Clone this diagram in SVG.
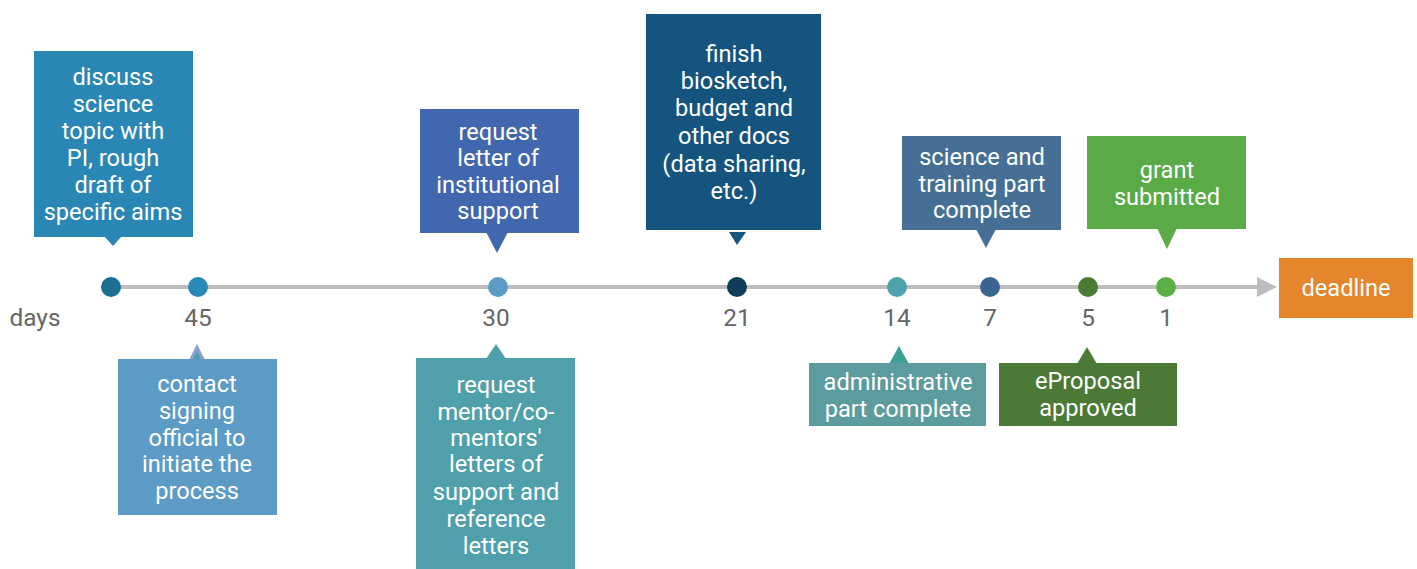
<svg xmlns="http://www.w3.org/2000/svg" width="1417" height="569" viewBox="0 0 1417 569">
<style>
.t{font-family:Roboto,"Liberation Sans",sans-serif;font-size:23.6px;fill:#ffffff;text-anchor:middle}
.n{font-family:Roboto,"Liberation Sans",sans-serif;font-size:24.4px;fill:#666666;text-anchor:middle}
</style>
<rect width="1417" height="569" fill="#ffffff"/>
<g id="connectors">
<line x1="111" y1="287" x2="1260" y2="287" stroke="#bdbdbd" stroke-width="4"/>
<polygon points="1257,277 1277,287 1257,297" fill="#bdbdbd"/>
</g>
<g id="dots">
<circle cx="111" cy="287" r="10" fill="#1d6f96"/>
<circle cx="198" cy="287" r="10" fill="#2989b7"/>
<circle cx="498" cy="287" r="10" fill="#5b9bc6"/>
<circle cx="737" cy="287" r="10" fill="#0e3d57"/>
<circle cx="897" cy="287" r="10" fill="#4ea2ae"/>
<circle cx="990" cy="287" r="10" fill="#3a6491"/>
<circle cx="1088" cy="287" r="10" fill="#4b7a33"/>
<circle cx="1166" cy="287" r="10" fill="#5aaf47"/>
</g>
<g id="labels">
<text x="35" y="326" class="n">days</text>
<text x="198" y="326" class="n">45</text>
<text x="496" y="326" class="n">30</text>
<text x="737" y="326" class="n">21</text>
<text x="897" y="326" class="n">14</text>
<text x="990" y="326" class="n">7</text>
<text x="1088" y="326" class="n">5</text>
<text x="1166" y="326" class="n">1</text>
</g>
<g id="n1">
<rect x="34" y="51" width="159" height="186" fill="#2a87b5"/>
<polygon points="104,236 122,236 113,246" fill="#2a87b5"/>
<text class="t"><tspan x="113" y="85">discuss</tspan><tspan x="113" y="112">science</tspan><tspan x="113" y="139">topic with</tspan><tspan x="113" y="166">PI, rough</tspan><tspan x="113" y="193">draft of</tspan><tspan x="113" y="220">specific aims</tspan></text>
</g>
<g id="n2">
<polygon points="189,360 205,360 197,344" fill="#8c9fcf"/>
<polygon points="193,359 201,359 197,351" fill="#4fa0ab"/>
<rect x="118" y="359" width="159" height="156" fill="#5b9bc6"/>
<text class="t"><tspan x="197" y="392">contact</tspan><tspan x="197" y="419">signing</tspan><tspan x="197" y="446">official to</tspan><tspan x="197" y="472">initiate the</tspan><tspan x="197" y="499">process</tspan></text>
</g>
<g id="n3">
<rect x="420" y="109" width="159" height="124" fill="#4167ae"/>
<polygon points="486,232 508,232 497,253" fill="#4167ae"/>
<text class="t"><tspan x="498" y="140">request</tspan><tspan x="498" y="166">letter of</tspan><tspan x="498" y="193">institutional</tspan><tspan x="498" y="219">support</tspan></text>
</g>
<g id="n4">
<polygon points="486,359 506,359 496,344" fill="#4fa0ab"/>
<rect x="416" y="358" width="159" height="211" fill="#4fa0ab"/>
<text class="t"><tspan x="496" y="393">request</tspan><tspan x="496" y="420">mentor/co-</tspan><tspan x="496" y="446">mentors'</tspan><tspan x="496" y="472">letters of</tspan><tspan x="496" y="500">support and</tspan><tspan x="496" y="527">reference</tspan><tspan x="496" y="554">letters</tspan></text>
</g>
<g id="n5">
<rect x="646" y="14" width="175" height="216" fill="#14547e"/>
<polygon points="729,232 746,232 737,245" fill="#14547e"/>
<text class="t"><tspan x="734" y="62">finish</tspan><tspan x="734" y="89">biosketch,</tspan><tspan x="734" y="116">budget and</tspan><tspan x="734" y="144">other docs</tspan><tspan x="734" y="172">(data sharing,</tspan><tspan x="734" y="199">etc.)</tspan></text>
</g>
<g id="n6">
<rect x="902" y="136" width="159" height="94" fill="#466f96"/>
<polygon points="976,229 996,229 986,248" fill="#466f96"/>
<text class="t"><tspan x="982" y="165">science and</tspan><tspan x="982" y="192">training part</tspan><tspan x="982" y="218">complete</tspan></text>
</g>
<g id="n7">
<polygon points="889,364 909,364 899,346" fill="#3e9f95"/>
<rect x="809" y="363" width="177" height="63" fill="#5c9b9e"/>
<text class="t"><tspan x="898" y="390">administrative</tspan><tspan x="898" y="417">part complete</tspan></text>
</g>
<g id="n8">
<polygon points="1077,364 1097,364 1087,347" fill="#4b7a37"/>
<rect x="999" y="363" width="178" height="63" fill="#4b7a37"/>
<text class="t"><tspan x="1088" y="389">eProposal</tspan><tspan x="1088" y="416">approved</tspan></text>
</g>
<g id="n9">
<rect x="1087" y="136" width="159" height="93" fill="#5aab47"/>
<polygon points="1157,228 1177,228 1167,249" fill="#5aab47"/>
<text class="t"><tspan x="1167" y="178">grant</tspan><tspan x="1167" y="205">submitted</tspan></text>
</g>
<g id="deadline">
<rect x="1279" y="258" width="134" height="60" fill="#e5862c"/>
<text class="t" x="1346" y="296">deadline</text>
</g>
</svg>
